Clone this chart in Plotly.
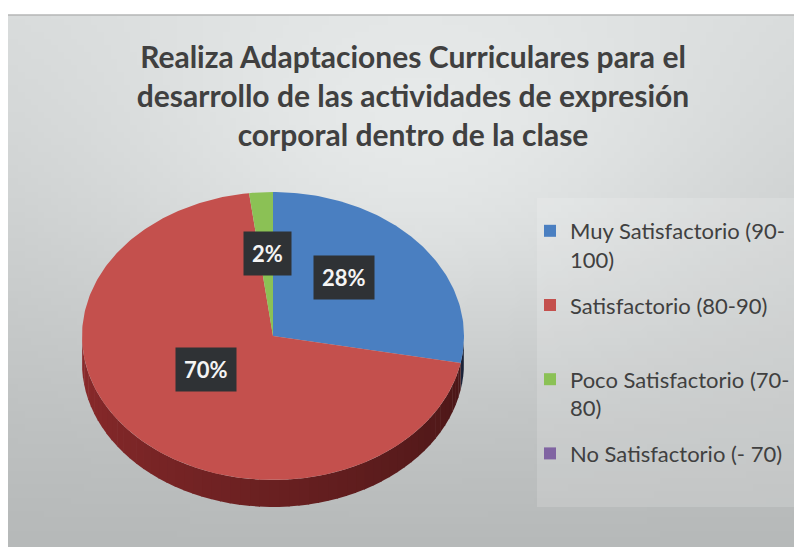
import base64
import struct
import zlib

import numpy as np
import plotly.graph_objects as go

# ---------------- data ----------------
title_lines = [
    "Realiza Adaptaciones Curriculares para el",
    "desarrollo de las actividades de expresión",
    "corporal dentro de la clase",
]
categories = [
    "Muy Satisfactorio (90-<br>100)",
    "Satisfactorio (80-90)<br>&nbsp;",
    "Poco Satisfactorio (70-<br>80)",
    "No Satisfactorio (- 70)",
]
values = [28, 70, 2, 0]
colors = ["#4A7FC1", "#C4504D", "#8BC155", "#8064A2"]

# ---------------- geometry (figure pixels; page has an 8px body margin) ----------------
W, H = 794, 539
CX, CY, RX, RY, DEPTH = 265, 328, 191, 144, 27
LABEL_CY = CY - 14   # perspective centre used for the data labels
LABEL_R = 0.48
FRAME_X0, FRAME_Y0 = 0, 7


def hex_rgb(h):
    h = h.lstrip("#")
    return tuple(int(h[i:i + 2], 16) for i in (0, 2, 4))


def pt(theta_deg, dy=0.0, r=1.0, cy=None):
    t = np.radians(theta_deg)
    cy = CY if cy is None else cy
    return CX + r * RX * np.sin(t), cy - r * RY * np.cos(t) + dy


# ---------------- background gradient image ----------------
def make_bg():
    bw, bh = 120, 80
    raw = bytearray()
    for j in range(bh):
        raw.append(0)
        y = FRAME_Y0 + (H - FRAME_Y0) * j / (bh - 1)
        for i in range(bw):
            x = FRAME_X0 + (W - FRAME_X0) * i / (bw - 1)
            v = (y - FRAME_Y0) / (H - FRAME_Y0)
            base = 217 - 32 * v
            hi = 24 * np.exp(-(((x - 410) / 330) ** 2 + ((y - 160) / 210) ** 2))
            c = base + hi
            raw += bytes([int(max(0, min(255, c - 3))), int(min(255, c)), int(min(255, c))])

    def chunk(tag, data):
        return struct.pack(">I", len(data)) + tag + data + struct.pack(">I", zlib.crc32(tag + data) & 0xFFFFFFFF)

    png = b"\x89PNG\r\n\x1a\n" + chunk(b"IHDR", struct.pack(">IIBBBBB", bw, bh, 8, 2, 0, 0, 0)) \
        + chunk(b"IDAT", zlib.compress(bytes(raw), 9)) + chunk(b"IEND", b"")
    return "data:image/png;base64," + base64.b64encode(png).decode()


fig = go.Figure()

total = sum(values)
starts = []
acc = 0.0
for v in values:
    starts.append(acc / total * 360)
    acc += v

# ---------------- side of the pie (front half only) ----------------
for k, v in enumerate(values):
    if v <= 0:
        continue
    a0, a1 = starts[k], starts[k] + v / total * 360
    lo, hi = max(a0, 90.0), min(a1, 270.0)
    if hi <= lo:
        continue
    n = max(1, int(np.ceil((hi - lo) / 3)))
    edges = np.linspace(lo, hi, n + 1)
    r, g, b = hex_rgb(colors[k])
    for s0, s1 in zip(edges[:-1], edges[1:]):
        mid = (s0 + s1) / 2
        f = 0.36 + 0.36 * (mid - 90) / 180  # darker on the right, lighter on the left
        col = f"rgb({int(r * f)},{int(g * f * 0.75)},{int(b * f * 0.8)})"
        ang = np.linspace(s0, min(s1 + 0.3, hi), 6)
        xs_t, ys_t = pt(ang)
        xs_b, ys_b = pt(ang[::-1], DEPTH)
        fig.add_trace(go.Scatter(
            x=np.concatenate([xs_t, xs_b]), y=np.concatenate([ys_t, ys_b]),
            fill="toself", mode="lines", line=dict(width=0), fillcolor=col,
            hoverinfo="skip", showlegend=False))

# ---------------- top face ----------------
for k, v in enumerate(values):
    if v <= 0:
        continue
    a0, a1 = starts[k], starts[k] + v / total * 360
    ang = np.linspace(a0, a1, max(4, int(v * 4)))
    xs, ys = pt(ang)
    fig.add_trace(go.Scatter(
        x=np.concatenate([[CX], xs, [CX]]), y=np.concatenate([[CY], ys, [CY]]),
        fill="toself", mode="lines", line=dict(width=0), fillcolor=colors[k],
        name=categories[k], hoverinfo="name", showlegend=False))

# ---------------- legend entries ----------------
for k, name in enumerate(categories):
    fig.add_trace(go.Scatter(
        x=[None], y=[None], mode="markers", name=name, legendgroup=str(k),
        marker=dict(symbol="square", size=12, color=colors[k])))

# ---------------- data labels ----------------
for k, v in enumerate(values):
    if v <= 0:
        continue
    mid = starts[k] + v / total * 180
    lx, ly = pt(mid, r=LABEL_R, cy=LABEL_CY)
    fig.add_annotation(
        x=lx, y=ly, xref="x", yref="y", text=f"<b>{v}%</b>", showarrow=False,
        font=dict(family="Lato", size=22, color="#F4F4F4"),
        bgcolor="#2F3235", borderpad=8)

fig.update_layout(
    width=W, height=H,
    margin=dict(l=0, r=0, t=0, b=0),
    paper_bgcolor="white", plot_bgcolor="rgba(0,0,0,0)",
    xaxis=dict(range=[0, W], visible=False, fixedrange=True),
    yaxis=dict(range=[H, 0], visible=False, fixedrange=True),
    title=dict(
        text="<br>".join(title_lines),
        x=405 / W, xanchor="center",
        y=1 - 60 / H, yanchor="middle",
        font=dict(family="Lato", size=30, color="#404040", weight="bold")),
    legend=dict(
        x=522 / W, xanchor="left", y=1 - 202 / H, yanchor="top",
        font=dict(family="Lato", size=22, color="#404040"),
        bgcolor="rgba(0,0,0,0)", valign="top",
        traceorder="grouped", tracegroupgap=14, itemwidth=30),
    images=[dict(
        source=make_bg(), xref="paper", yref="paper",
        x=FRAME_X0 / W, y=1 - FRAME_Y0 / H,
        sizex=(W - FRAME_X0) / W, sizey=(H - FRAME_Y0) / H,
        sizing="stretch", layer="below", xanchor="left", yanchor="top")],
    shapes=[
        dict(type="rect", xref="x", yref="y", x0=529, x1=W, y0=190, y1=499,
             fillcolor="rgba(255,255,255,0.16)", line=dict(width=0), layer="below"),
        dict(type="line", xref="x", yref="y", x0=FRAME_X0, x1=W, y0=FRAME_Y0, y1=FRAME_Y0,
             line=dict(color="#B4B6B6", width=1.5)),
    ],
    showlegend=True,
)

fig.write_html("out.html")
